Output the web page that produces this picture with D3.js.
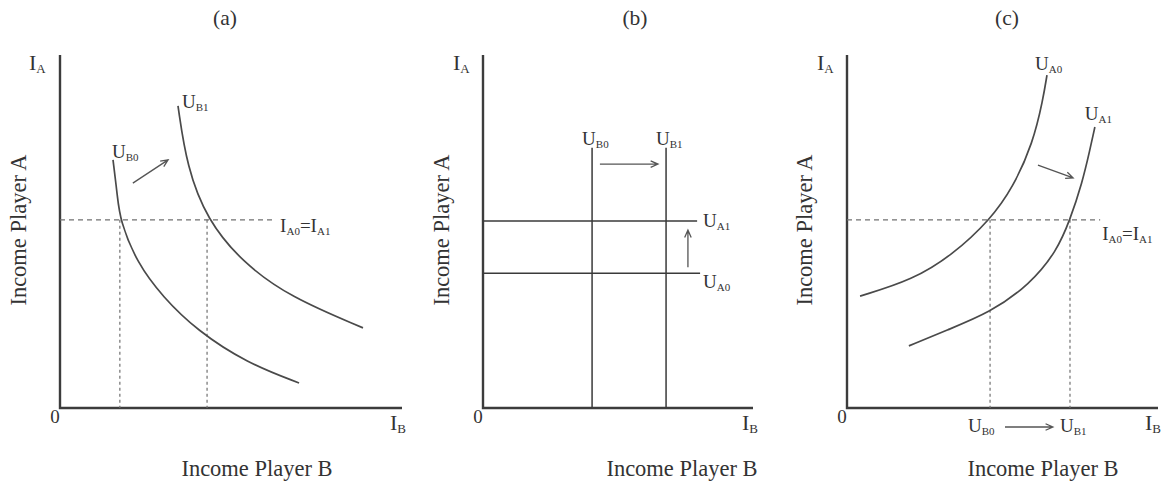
<!DOCTYPE html>
<html>
<head>
<meta charset="utf-8">
<script src="https://cdn.jsdelivr.net/npm/d3@7"></script>
<style>
  body { margin: 0; background: #fff; }
  svg { display: block; }
  text { font-family: "Liberation Serif", "Times New Roman", serif; fill: #333; }
</style>
</head>
<body>
<svg id="chart" width="1163" height="482"></svg>
<script>
// ---- content ----
const panelTitles = ["(a)", "(b)", "(c)"];
const xAxisTitle = "Income Player B";
const yAxisTitle = "Income Player A";

// Panel (a): player B's indifference curves (income units 0..100 on both axes)
const curveUB0 = [[15.5, 70.3], [16.8, 60.0], [17.5, 53.3], [22.5, 41.1], [30.1, 31.4], [40.0, 22.0], [54.7, 12.7], [69.9, 7.1]];
const curveUB1 = [[34.5, 85.6], [37.1, 68.3], [43.0, 53.3], [53.5, 41.1], [67.3, 31.4], [88.6, 22.7]];
const incomeLevelA = 53.3;          // I_A0 = I_A1
const incomeLevelEndA = 62.9;
const crossingsA = [17.5, 43.0];     // I_B where the curves meet the income level
const shiftA = [[21.3, 63.7], [31.6, 70.3]];

// Panel (b): vertical U_B lines, horizontal U_A lines
const levelsUB = [40.4, 67.8];
const levelsUBTop = 73.7;
const levelsUA = [53.0, 38.2];       // U_A1, U_A0
const levelsUAEnd = [79.3, 80.4];
const shiftBRight = [[43.3, 69.1], [64.8, 69.1]];
const shiftBUp = [[75.9, 39.9], [75.9, 50.4]];

// Panel (c): player A's indifference curves
const curveUA0 = [[4.2, 31.7], [21.2, 36.3], [34.1, 43.5], [46.0, 53.3], [53.4, 62.5], [59.8, 75.1], [63.0, 87.3], [64.3, 94.3]];
const curveUA1 = [[19.9, 17.6], [32.2, 22.1], [46.0, 27.0], [58.8, 35.0], [67.5, 44.5], [71.7, 53.3], [75.6, 63.7], [78.1, 73.1], [79.7, 79.6]];
const incomeLevelC = 53.3;
const incomeLevelEndC = 81.4;
const crossingsC = [46.0, 71.7];
const shiftC = [[61.4, 68.8], [72.7, 65.2]];
const shiftBottomC = [50.8, 66.2];

// ---- layout ----
const svg = d3.select("#chart");
const yBottom = 408, yTop = 55;
const panels = [
  { x0: 60,  x1: 402,  titleX: 225,  yTitleX: 26,  ibX: 390,  iaX: 29,  xTitleX: 257 },
  { x0: 483, x1: 753,  titleX: 635,  yTitleX: 449, ibX: 742,  iaX: 453, xTitleX: 682 },
  { x0: 847, x1: 1158, titleX: 1007, yTitleX: 812, ibX: 1145, iaX: 817, xTitleX: 1043 }
];
panels.forEach(p => {
  p.x = d3.scaleLinear().domain([0, 100]).range([p.x0, p.x1]);
  p.y = d3.scaleLinear().domain([0, 100]).range([yBottom, yTop]);
});

const axisColor = "#3c3c3c";
const curveColor = "#4a4a4a";
const dashColor = "#707070";

// text with subscripts: parts = [[text, isSub], ...]
function label(x, y, parts, size, anchor) {
  const t = svg.append("text").attr("x", x).attr("y", y)
    .attr("font-size", size).attr("text-anchor", anchor || "start");
  let shifted = false;
  parts.forEach(([s, isSub]) => {
    const ts = t.append("tspan").text(s);
    if (isSub && !shifted) { ts.attr("dy", 3).attr("font-size", Math.round(size * 0.6)); shifted = true; }
    else if (isSub) { ts.attr("font-size", Math.round(size * 0.6)); }
    else if (!isSub && shifted) { ts.attr("dy", -3); shifted = false; }
  });
  return t;
}

function arrow(x1, y1, x2, y2, head) {
  head = head || 8;
  const a = Math.atan2(y2 - y1, x2 - x1);
  const spread = 0.42;
  const p = d3.path();
  p.moveTo(x1, y1); p.lineTo(x2, y2);
  p.moveTo(x2 - head * Math.cos(a - spread), y2 - head * Math.sin(a - spread));
  p.lineTo(x2, y2);
  p.lineTo(x2 - head * Math.cos(a + spread), y2 - head * Math.sin(a + spread));
  svg.append("path").attr("d", p.toString()).attr("fill", "none")
    .attr("stroke", "#555").attr("stroke-width", 1.3);
}

function curve(p, pts) {
  const line = d3.line().x(d => p.x(d[0])).y(d => p.y(d[1])).curve(d3.curveBasis);
  svg.append("path").datum(pts).attr("d", line).attr("fill", "none")
    .attr("stroke", curveColor).attr("stroke-width", 1.7);
}

function seg(x1, y1, x2, y2, color, width, dash) {
  const l = svg.append("line").attr("x1", x1).attr("y1", y1).attr("x2", x2).attr("y2", y2)
    .attr("stroke", color).attr("stroke-width", width);
  if (dash) l.attr("stroke-dasharray", dash);
  return l;
}

// ---- shared frame for each panel ----
panels.forEach((p, i) => {
  svg.append("text").attr("x", p.titleX).attr("y", 25).attr("text-anchor", "middle")
    .attr("font-size", 21.5).text(panelTitles[i]);
  // axes
  const axisPath = d3.path();
  axisPath.moveTo(p.x(0), p.y(100)); axisPath.lineTo(p.x(0), p.y(0)); axisPath.lineTo(p.x(100), p.y(0));
  svg.append("path").attr("d", axisPath.toString()).attr("fill", "none")
    .attr("stroke", axisColor).attr("stroke-width", 2.4);
  label(p.iaX, 70, [["I", false], ["A", true]], 22);
  label(p.ibX, 430, [["I", false], ["B", true]], 22);
  svg.append("text").attr("x", p.x(0) - 5).attr("y", 423).attr("text-anchor", "middle")
    .attr("font-size", 19).text("0");
  svg.append("text").attr("x", p.xTitleX).attr("y", 476).attr("text-anchor", "middle")
    .attr("font-size", 22.5).text(xAxisTitle);
  svg.append("text").attr("transform", `translate(${p.yTitleX},230) rotate(-90)`)
    .attr("text-anchor", "middle").attr("font-size", 22.5).text(yAxisTitle);
});

// ---- panel (a) ----
(function () {
  const p = panels[0];
  seg(p.x(0), p.y(incomeLevelA), p.x(incomeLevelEndA), p.y(incomeLevelA), dashColor, 1.2, "5,4");
  crossingsA.forEach(v => seg(p.x(v), p.y(incomeLevelA), p.x(v), p.y(0), dashColor, 1.2, "3,3"));
  curve(p, curveUB0);
  curve(p, curveUB1);
  arrow(p.x(shiftA[0][0]), p.y(shiftA[0][1]), p.x(shiftA[1][0]), p.y(shiftA[1][1]), 8);
  const s0 = curveUB0[0], s1 = curveUB1[0];
  label(p.x(s0[0]) - 1, p.y(s0[1]) - 2, [["U", false], ["B0", true]], 19);
  label(p.x(s1[0]) + 4, p.y(s1[1]) + 2, [["U", false], ["B1", true]], 19);
  label(p.x(incomeLevelEndA) + 5, p.y(incomeLevelA) + 12,
    [["I", false], ["A0", true], ["=I", false], ["A1", true]], 19);
})();

// ---- panel (b) ----
(function () {
  const p = panels[1];
  levelsUB.forEach(v => seg(p.x(v), p.y(levelsUBTop), p.x(v), p.y(0), "#3a3a3a", 1.5));
  levelsUA.forEach((v, i) => seg(p.x(0), p.y(v), p.x(levelsUAEnd[i]), p.y(v), "#3a3a3a", 1.5));
  arrow(p.x(shiftBRight[0][0]), p.y(shiftBRight[0][1]), p.x(shiftBRight[1][0]), p.y(shiftBRight[1][1]), 8);
  arrow(p.x(shiftBUp[0][0]), p.y(shiftBUp[0][1]), p.x(shiftBUp[1][0]), p.y(shiftBUp[1][1]), 8);
  ["B0", "B1"].forEach((s, i) =>
    label(p.x(levelsUB[i]) - 10, p.y(levelsUBTop) - 3, [["U", false], [s, true]], 19));
  label(p.x(levelsUAEnd[0]) + 6, p.y(levelsUA[0]) + 6, [["U", false], ["A1", true]], 19);
  label(p.x(levelsUAEnd[1]) + 3, p.y(levelsUA[1]) + 15, [["U", false], ["A0", true]], 19);
})();

// ---- panel (c) ----
(function () {
  const p = panels[2];
  seg(p.x(0), p.y(incomeLevelC), p.x(incomeLevelEndC), p.y(incomeLevelC), dashColor, 1.2, "5,4");
  crossingsC.forEach(v => seg(p.x(v), p.y(incomeLevelC), p.x(v), p.y(0), dashColor, 1.2, "3,3"));
  curve(p, curveUA0);
  curve(p, curveUA1);
  arrow(p.x(shiftC[0][0]), p.y(shiftC[0][1]), p.x(shiftC[1][0]), p.y(shiftC[1][1]), 8);
  const e0 = curveUA0[curveUA0.length - 1], e1 = curveUA1[curveUA1.length - 1];
  label(p.x(e0[0]) - 12, p.y(e0[1]) - 5, [["U", false], ["A0", true]], 19);
  label(p.x(e1[0]) - 10, p.y(e1[1]) - 7, [["U", false], ["A1", true]], 19);
  label(p.x(incomeLevelEndC) + 2, p.y(incomeLevelC) + 20,
    [["I", false], ["A0", true], ["=I", false], ["A1", true]], 19);
  // shift of player B's utility along the income axis
  label(p.x(crossingsC[0]) - 22, 432, [["U", false], ["B0", true]], 19);
  label(p.x(crossingsC[1]) - 10, 432, [["U", false], ["B1", true]], 19);
  arrow(p.x(shiftBottomC[0]), 427, p.x(shiftBottomC[1]), 427, 8);
})();
</script>
</body>
</html>
